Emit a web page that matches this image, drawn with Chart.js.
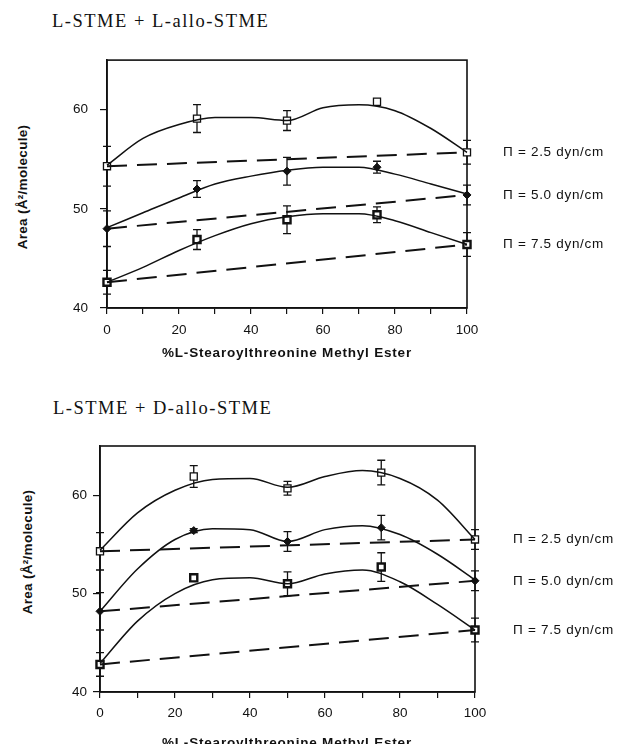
<!DOCTYPE html>
<html>
<head>
<meta charset="utf-8">
<script src="https://cdn.jsdelivr.net/npm/chart.js@4.4.1/dist/chart.umd.min.js"></script>
<style>
html,body{margin:0;padding:0;background:#fff;}
#wrap{position:relative;width:625px;height:744px;overflow:hidden;}
canvas{position:absolute;left:0;}
.ttl{position:absolute;font-family:'Liberation Serif',serif;font-size:18.5px;letter-spacing:1.5px;color:#111;white-space:nowrap;line-height:22px;}
.ylab{position:absolute;font-family:'Liberation Sans',Arial,sans-serif;font-weight:bold;font-size:13.5px;letter-spacing:0.3px;color:#111;white-space:nowrap;transform:translate(-50%,-50%) rotate(-90deg);}
.xlab{position:absolute;font-family:'Liberation Sans',Arial,sans-serif;font-weight:bold;font-size:13.5px;letter-spacing:0.8px;color:#111;white-space:nowrap;transform:translate(-50%,-50%);}
</style>
</head>
<body>
<div id="wrap">
  <div class="ttl" style="left:52px;top:10px">L-STME + L-allo-STME</div>
  <div class="ylab" style="left:22px;top:187px">Area (Å²/molecule)</div>
  <canvas id="top" width="625" height="310" style="top:40px"></canvas>
  <div class="xlab" style="left:287px;top:352px">%L-Stearoylthreonine Methyl Ester</div>

  <div class="ttl" style="left:53px;top:397px">L-STME + D-allo-STME</div>
  <div class="ylab" style="left:27px;top:552px">Area (Å²/molecule)</div>
  <canvas id="bot" width="625" height="314" style="top:430px"></canvas>
  <div class="xlab" style="left:287px;top:742px">%L-Stearoylthreonine Methyl Ester</div>
</div>
<script>
// mole % of L-STME for the measured films, and x where the smooth fits were traced
const xPct=[0,25,50,75,100];
const xFit=[0,10,20,30,40,50,60,70,80,90,100];
const xTicks=[0,10,20,30,40,50,60,70,80,90,100];
const yTicks=[40,50,60];
const piLabels=['\u03A0 = 2.5 dyn/cm','\u03A0 = 5.0 dyn/cm','\u03A0 = 7.5 dyn/cm'];

// L-STME + L-allo-STME, area (A^2/molecule)
const lAllo25=[54.3,59.1,58.9,60.8,55.7];
const lAllo25Err=[2.0,1.4,1.0,0,1.2];
const lAllo25Fit=[54.4,57.1,58.5,59.2,59.2,58.9,60.2,60.5,59.9,58.1,55.7];
const lAllo50=[48.0,52.0,53.8,54.2,51.4];
const lAllo50Err=[1.8,0.85,1.4,0.6,1.0];
const lAllo50Fit=[48.1,49.6,51.1,52.5,53.3,53.9,54.2,54.2,53.5,52.5,51.5];
const lAllo75=[42.6,46.9,48.9,49.4,46.4];
const lAllo75Err=[1.2,1.0,1.4,0.8,1.2];
const lAllo75Fit=[42.6,44.1,45.8,47.3,48.5,49.2,49.5,49.5,48.8,47.6,46.4];

// L-STME + D-allo-STME
const dAllo25=[54.3,61.9,60.7,62.3,55.5];
const dAllo25Err=[1.9,1.1,0.7,1.25,1.0];
const dAllo25Fit=[54.4,58.2,60.5,61.6,61.7,60.8,61.9,62.5,61.7,59.5,55.5];
const dAllo50=[48.2,56.4,55.3,56.7,51.3];
const dAllo50Err=[1.9,0.2,1.0,1.25,1.0];
const dAllo50Fit=[48.2,52.5,55.5,56.6,56.5,55.3,56.5,56.9,56.0,54.0,51.4];
const dAllo75=[42.8,51.6,51.0,52.7,46.3];
const dAllo75Err=[1.2,0.3,1.2,1.45,1.2];
const dAllo75Fit=[42.9,47.2,50.0,51.4,51.6,51.0,52.0,52.4,51.2,48.9,46.3];

const INK='#111';
const marks=[
  {pointStyle:'rect',radius:5,bg:'#fff',bw:1.3},
  {pointStyle:'rectRot',radius:4,bg:INK,bw:1},
  {pointStyle:'rect',radius:5,bg:'#fff',bw:2.4}
];

// frame, error bars and the pressure labels at the right
const extras={
  id:'extras',
  beforeDatasetsDraw(chart){
    const {ctx,chartArea:a,scales:{x,y}}=chart;
    ctx.save();
    ctx.strokeStyle=INK;ctx.lineWidth=1.6;
    ctx.strokeRect(a.left,a.top,a.right-a.left,a.bottom-a.top);
    ctx.lineWidth=1.3;
    chart.data.datasets.forEach(ds=>{
      if(!ds.errors)return;
      ds.data.forEach((p,i)=>{
        const e=ds.errors[i];if(!e)return;
        const px=x.getPixelForValue(p.x);
        const y1=y.getPixelForValue(p.y+e),y2=y.getPixelForValue(p.y-e);
        ctx.beginPath();
        ctx.moveTo(px,y1);ctx.lineTo(px,y2);
        ctx.moveTo(px-4,y1);ctx.lineTo(px+4,y1);
        ctx.moveTo(px-4,y2);ctx.lineTo(px+4,y2);
        ctx.stroke();
      });
    });
    ctx.restore();
  },
  afterDraw(chart){
    const {ctx,chartArea:a,scales:{y}}=chart;
    const o=chart.options.plugins.extras;
    ctx.save();
    ctx.fillStyle=INK;
    ctx.font='13.5px "Liberation Sans", Arial, sans-serif';
    ctx.letterSpacing='0.7px';
    ctx.textBaseline='middle';
    o.ends.forEach((v,i)=>ctx.fillText(piLabels[i],a.right+o.gap,y.getPixelForValue(v)));
    ctx.restore();
  }
};

function build(id,sets,geo){
  const datasets=[];
  sets.forEach(s=>{
    datasets.push({data:xFit.map((x,i)=>({x,y:s.fit[i]})),showLine:true,borderColor:INK,
      borderWidth:1.5,pointRadius:0,cubicInterpolationMode:'monotone',clip:false});
  });
  sets.forEach(s=>{
    datasets.push({data:[{x:xPct[0],y:s.pts[0]},{x:xPct[4],y:s.pts[4]}],showLine:true,
      borderColor:INK,borderWidth:2,borderDash:[20,10],pointRadius:0,clip:false});
  });
  sets.forEach((s,k)=>{
    const m=marks[k];
    datasets.push({data:xPct.map((x,i)=>({x,y:s.pts[i]})),errors:s.err,showLine:false,
      pointStyle:m.pointStyle,pointRadius:m.radius,pointBackgroundColor:m.bg,
      pointBorderColor:INK,pointBorderWidth:m.bw,clip:false});
  });
  const tickFont={family:'"Liberation Sans", Arial, sans-serif',size:13.5};
  return new Chart(document.getElementById(id),{
    type:'scatter',
    data:{datasets},
    plugins:[extras],
    options:{
      responsive:false,animation:false,devicePixelRatio:1,
      layout:{padding:{top:geo.top,right:geo.right,left:0,bottom:0}},
      plugins:{legend:{display:false},tooltip:{enabled:false},
        extras:{ends:sets.map(s=>s.pts[4]),gap:geo.gap}},
      scales:{
        x:{type:'linear',min:0,max:100,
          afterBuildTicks:sc=>{sc.ticks=xTicks.map(v=>({value:v}));},
          afterFit:sc=>{sc.height=geo.xh;},
          grid:{drawOnChartArea:false,drawTicks:true,tickLength:6,color:INK,lineWidth:1.2},
          border:{display:true,color:INK,width:1.6},
          ticks:{color:INK,font:tickFont,padding:geo.xpad,maxRotation:0,autoSkip:false,
            callback:v=>v%20===0?String(v):''}},
        y:{type:'linear',min:40,max:65,
          afterBuildTicks:sc=>{sc.ticks=yTicks.map(v=>({value:v}));},
          afterFit:sc=>{sc.width=geo.left;},
          grid:{drawOnChartArea:false,drawTicks:true,tickLength:7,color:INK,lineWidth:1.2},
          border:{display:true,color:INK,width:1.6},
          ticks:{color:INK,font:tickFont,padding:geo.ypad}}
      }
    }
  });
}

build('top',[
  {pts:lAllo25,err:lAllo25Err,fit:lAllo25Fit},
  {pts:lAllo50,err:lAllo50Err,fit:lAllo50Fit},
  {pts:lAllo75,err:lAllo75Err,fit:lAllo75Fit}
],{top:17,right:158,left:107,xh:42,xpad:8,ypad:12,gap:36});

build('bot',[
  {pts:dAllo25,err:dAllo25Err,fit:dAllo25Fit},
  {pts:dAllo50,err:dAllo50Err,fit:dAllo50Fit},
  {pts:dAllo75,err:dAllo75Err,fit:dAllo75Fit}
],{top:16,right:150,left:100,xh:52,xpad:7,ypad:6,gap:38});
</script>
</body>
</html>
